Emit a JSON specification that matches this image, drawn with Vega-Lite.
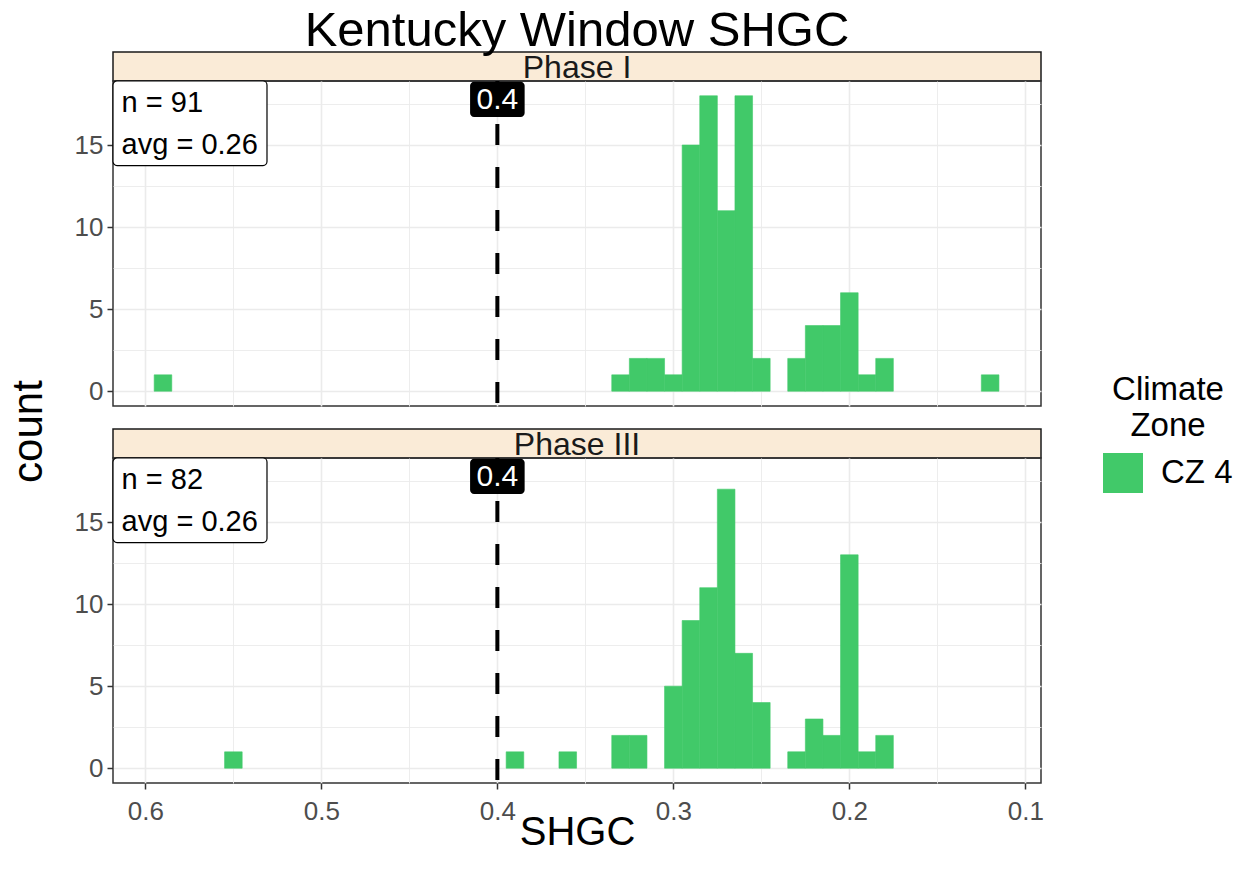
{
  "$schema": "https://vega.github.io/schema/vega-lite/v6.json",
  "padding": {"left": 6, "top": 5, "right": 5, "bottom": 5},
  "background": "white",
  "bounds": "flush",
  "spacing": 0,
  "datasets": {
    "bins": [
      {"phase": "Phase I", "zone": "CZ 4", "shgc_min": 0.585, "shgc_max": 0.595, "count": 1},
      {"phase": "Phase I", "zone": "CZ 4", "shgc_min": 0.325, "shgc_max": 0.335, "count": 1},
      {"phase": "Phase I", "zone": "CZ 4", "shgc_min": 0.315, "shgc_max": 0.325, "count": 2},
      {"phase": "Phase I", "zone": "CZ 4", "shgc_min": 0.305, "shgc_max": 0.315, "count": 2},
      {"phase": "Phase I", "zone": "CZ 4", "shgc_min": 0.295, "shgc_max": 0.305, "count": 1},
      {"phase": "Phase I", "zone": "CZ 4", "shgc_min": 0.285, "shgc_max": 0.295, "count": 15},
      {"phase": "Phase I", "zone": "CZ 4", "shgc_min": 0.275, "shgc_max": 0.285, "count": 18},
      {"phase": "Phase I", "zone": "CZ 4", "shgc_min": 0.265, "shgc_max": 0.275, "count": 11},
      {"phase": "Phase I", "zone": "CZ 4", "shgc_min": 0.255, "shgc_max": 0.265, "count": 18},
      {"phase": "Phase I", "zone": "CZ 4", "shgc_min": 0.245, "shgc_max": 0.255, "count": 2},
      {"phase": "Phase I", "zone": "CZ 4", "shgc_min": 0.225, "shgc_max": 0.235, "count": 2},
      {"phase": "Phase I", "zone": "CZ 4", "shgc_min": 0.215, "shgc_max": 0.225, "count": 4},
      {"phase": "Phase I", "zone": "CZ 4", "shgc_min": 0.205, "shgc_max": 0.215, "count": 4},
      {"phase": "Phase I", "zone": "CZ 4", "shgc_min": 0.195, "shgc_max": 0.205, "count": 6},
      {"phase": "Phase I", "zone": "CZ 4", "shgc_min": 0.185, "shgc_max": 0.195, "count": 1},
      {"phase": "Phase I", "zone": "CZ 4", "shgc_min": 0.175, "shgc_max": 0.185, "count": 2},
      {"phase": "Phase I", "zone": "CZ 4", "shgc_min": 0.115, "shgc_max": 0.125, "count": 1},
      {"phase": "Phase III", "zone": "CZ 4", "shgc_min": 0.545, "shgc_max": 0.555, "count": 1},
      {"phase": "Phase III", "zone": "CZ 4", "shgc_min": 0.385, "shgc_max": 0.395, "count": 1},
      {"phase": "Phase III", "zone": "CZ 4", "shgc_min": 0.355, "shgc_max": 0.365, "count": 1},
      {"phase": "Phase III", "zone": "CZ 4", "shgc_min": 0.325, "shgc_max": 0.335, "count": 2},
      {"phase": "Phase III", "zone": "CZ 4", "shgc_min": 0.315, "shgc_max": 0.325, "count": 2},
      {"phase": "Phase III", "zone": "CZ 4", "shgc_min": 0.295, "shgc_max": 0.305, "count": 5},
      {"phase": "Phase III", "zone": "CZ 4", "shgc_min": 0.285, "shgc_max": 0.295, "count": 9},
      {"phase": "Phase III", "zone": "CZ 4", "shgc_min": 0.275, "shgc_max": 0.285, "count": 11},
      {"phase": "Phase III", "zone": "CZ 4", "shgc_min": 0.265, "shgc_max": 0.275, "count": 17},
      {"phase": "Phase III", "zone": "CZ 4", "shgc_min": 0.255, "shgc_max": 0.265, "count": 7},
      {"phase": "Phase III", "zone": "CZ 4", "shgc_min": 0.245, "shgc_max": 0.255, "count": 4},
      {"phase": "Phase III", "zone": "CZ 4", "shgc_min": 0.225, "shgc_max": 0.235, "count": 1},
      {"phase": "Phase III", "zone": "CZ 4", "shgc_min": 0.215, "shgc_max": 0.225, "count": 3},
      {"phase": "Phase III", "zone": "CZ 4", "shgc_min": 0.205, "shgc_max": 0.215, "count": 2},
      {"phase": "Phase III", "zone": "CZ 4", "shgc_min": 0.195, "shgc_max": 0.205, "count": 13},
      {"phase": "Phase III", "zone": "CZ 4", "shgc_min": 0.185, "shgc_max": 0.195, "count": 1},
      {"phase": "Phase III", "zone": "CZ 4", "shgc_min": 0.175, "shgc_max": 0.185, "count": 2}
    ],
    "notes": [
      {"phase": "Phase I", "n_label": "n = 91", "avg_label": "avg = 0.26", "threshold": 0.4, "threshold_label": "0.4"},
      {"phase": "Phase III", "n_label": "n = 82", "avg_label": "avg = 0.26", "threshold": 0.4, "threshold_label": "0.4"}
    ]
  },
  "vconcat": [
    {
      "title": {"text": "Kentucky Window SHGC", "fontSize": 49, "fontWeight": "normal", "color": "black", "font": "Liberation Sans", "anchor": "middle", "offset": -4},
      "width": 928, "height": 29,
      "view": {"fill": "#FAEBD7", "stroke": "#1A1A1A", "strokeWidth": 1.5},
      "data": {"name": "notes"},
      "transform": [{"filter": "datum.phase === 'Phase I'"}],
      "mark": {"type": "text", "fontSize": 32, "baseline": "alphabetic", "dy": 11, "color": "#1A1A1A"},
      "encoding": {"text": {"field": "phase"}}
    },
    {
      "width": 928, "height": 325,
      "view": {"stroke": "#333333", "strokeWidth": 1.5},
      "layer": [
        {
          "data": {"name": "bins"},
          "transform": [{"filter": "datum.phase === 'Phase I'"}],
          "mark": {"type": "rect", "stroke": "#41C969", "strokeWidth": 0.6},
          "encoding": {
            "x": {"field": "shgc_min", "type": "quantitative", "scale": {"domain": [0.0911, 0.6184], "reverse": true, "nice": false, "zero": false},
              "axis": {"values": [0.1, 0.15, 0.2, 0.25, 0.3, 0.35, 0.4, 0.45, 0.5, 0.55, 0.6], "labels": false, "ticks": false, "title": null,
                "gridWidth": {"condition": {"test": "abs(round(datum.value*10) - datum.value*10) < 0.01", "value": 1.6}, "value": 0.9}}},
            "x2": {"field": "shgc_max"},
            "y": {"field": "count", "type": "quantitative", "scale": {"domain": [-0.9, 18.9], "nice": false, "zero": false},
              "axis": {"values": [0, 2.5, 5, 7.5, 10, 12.5, 15, 17.5], "title": "count", "titleFontSize": 42, "titleX": -72, "titleY": 350, "titleAlign": "center", "titleBaseline": "alphabetic", "titleAngle": 270,
                "labelExpr": "datum.value % 5 === 0 ? datum.label : ''",
                "tickOpacity": {"condition": {"test": "datum.value % 5 === 0", "value": 1}, "value": 0},
                "gridWidth": {"condition": {"test": "datum.value % 5 === 0", "value": 1.6}, "value": 0.9}}},
            "y2": {"datum": 0},
            "color": {"field": "zone", "type": "nominal", "scale": {"range": ["#41C969"]}, "title": ["Climate", "Zone"]}
          }
        },
        {
          "data": {"name": "notes"},
          "transform": [{"filter": "datum.phase === 'Phase I'"}],
          "mark": {"type": "rule", "strokeDash": [21, 22], "strokeWidth": 4, "color": "black"},
          "encoding": {"x": {"field": "threshold", "type": "quantitative"}}
        },
        {
          "data": {"name": "notes"},
          "transform": [{"filter": "datum.phase === 'Phase I'"}],
          "mark": {"type": "rect", "fill": "black", "cornerRadius": 4},
          "encoding": {"x": {"datum": 0.4155}, "x2": {"datum": 0.3845}, "y": {"datum": 18.85}, "y2": {"datum": 16.7}}
        },
        {
          "data": {"name": "notes"},
          "transform": [{"filter": "datum.phase === 'Phase I'"}],
          "mark": {"type": "text", "color": "white", "fontSize": 30, "align": "center", "baseline": "middle"},
          "encoding": {"x": {"field": "threshold", "type": "quantitative"}, "y": {"datum": 17.75}, "text": {"field": "threshold_label"}}
        },
        {
          "data": {"name": "notes"},
          "transform": [{"filter": "datum.phase === 'Phase I'"}],
          "mark": {"type": "rect", "fill": "white", "stroke": "black", "strokeWidth": 1.2, "cornerRadius": 4},
          "encoding": {"x": {"datum": 0.6184}, "x2": {"datum": 0.5309}, "y": {"datum": 18.9}, "y2": {"datum": 13.75}}
        },
        {
          "data": {"name": "notes"},
          "transform": [{"filter": "datum.phase === 'Phase I'"}],
          "mark": {"type": "text", "color": "black", "fontSize": 29, "align": "left", "baseline": "middle"},
          "encoding": {"x": {"datum": 0.6135}, "y": {"datum": 17.56}, "text": {"field": "n_label"}}
        },
        {
          "data": {"name": "notes"},
          "transform": [{"filter": "datum.phase === 'Phase I'"}],
          "mark": {"type": "text", "color": "black", "fontSize": 29, "align": "left", "baseline": "middle"},
          "encoding": {"x": {"datum": 0.6135}, "y": {"datum": 15.0}, "text": {"field": "avg_label"}}
        }
      ]
    },
    {
      "width": 928, "height": 23,
      "view": {"stroke": null, "fill": null},
      "data": {"values": []},
      "mark": "point"
    },
    {
      "width": 928, "height": 29,
      "view": {"fill": "#FAEBD7", "stroke": "#1A1A1A", "strokeWidth": 1.5},
      "data": {"name": "notes"},
      "transform": [{"filter": "datum.phase === 'Phase III'"}],
      "mark": {"type": "text", "fontSize": 32, "baseline": "alphabetic", "dy": 11, "color": "#1A1A1A"},
      "encoding": {"text": {"field": "phase"}}
    },
    {
      "width": 928, "height": 325,
      "view": {"stroke": "#333333", "strokeWidth": 1.5},
      "layer": [
        {
          "data": {"name": "bins"},
          "transform": [{"filter": "datum.phase === 'Phase III'"}],
          "mark": {"type": "rect", "stroke": "#41C969", "strokeWidth": 0.6},
          "encoding": {
            "x": {"field": "shgc_min", "type": "quantitative", "scale": {"domain": [0.0911, 0.6184], "reverse": true, "nice": false, "zero": false},
              "axis": {"values": [0.1, 0.15, 0.2, 0.25, 0.3, 0.35, 0.4, 0.45, 0.5, 0.55, 0.6], "title": "SHGC", "labelOverlap": false, "labelPadding": 9, "titlePadding": -12,
                "labelExpr": "abs(round(datum.value*10) - datum.value*10) < 0.01 ? format(datum.value, '.1f') : ''",
                "tickOpacity": {"condition": {"test": "abs(round(datum.value*10) - datum.value*10) < 0.01", "value": 1}, "value": 0},
                "gridWidth": {"condition": {"test": "abs(round(datum.value*10) - datum.value*10) < 0.01", "value": 1.6}, "value": 0.9}}},
            "x2": {"field": "shgc_max"},
            "y": {"field": "count", "type": "quantitative", "scale": {"domain": [-0.9, 18.9], "nice": false, "zero": false},
              "axis": {"values": [0, 2.5, 5, 7.5, 10, 12.5, 15, 17.5], "title": null,
                "labelExpr": "datum.value % 5 === 0 ? datum.label : ''",
                "tickOpacity": {"condition": {"test": "datum.value % 5 === 0", "value": 1}, "value": 0},
                "gridWidth": {"condition": {"test": "datum.value % 5 === 0", "value": 1.6}, "value": 0.9}}},
            "y2": {"datum": 0},
            "color": {"field": "zone", "type": "nominal", "scale": {"range": ["#41C969"]}, "title": ["Climate", "Zone"]}
          }
        },
        {
          "data": {"name": "notes"},
          "transform": [{"filter": "datum.phase === 'Phase III'"}],
          "mark": {"type": "rule", "strokeDash": [21, 22], "strokeWidth": 4, "color": "black"},
          "encoding": {"x": {"field": "threshold", "type": "quantitative"}}
        },
        {
          "data": {"name": "notes"},
          "transform": [{"filter": "datum.phase === 'Phase III'"}],
          "mark": {"type": "rect", "fill": "black", "cornerRadius": 4},
          "encoding": {"x": {"datum": 0.4155}, "x2": {"datum": 0.3845}, "y": {"datum": 18.85}, "y2": {"datum": 16.7}}
        },
        {
          "data": {"name": "notes"},
          "transform": [{"filter": "datum.phase === 'Phase III'"}],
          "mark": {"type": "text", "color": "white", "fontSize": 30, "align": "center", "baseline": "middle"},
          "encoding": {"x": {"field": "threshold", "type": "quantitative"}, "y": {"datum": 17.75}, "text": {"field": "threshold_label"}}
        },
        {
          "data": {"name": "notes"},
          "transform": [{"filter": "datum.phase === 'Phase III'"}],
          "mark": {"type": "rect", "fill": "white", "stroke": "black", "strokeWidth": 1.2, "cornerRadius": 4},
          "encoding": {"x": {"datum": 0.6184}, "x2": {"datum": 0.5309}, "y": {"datum": 18.9}, "y2": {"datum": 13.75}}
        },
        {
          "data": {"name": "notes"},
          "transform": [{"filter": "datum.phase === 'Phase III'"}],
          "mark": {"type": "text", "color": "black", "fontSize": 29, "align": "left", "baseline": "middle"},
          "encoding": {"x": {"datum": 0.6135}, "y": {"datum": 17.56}, "text": {"field": "n_label"}}
        },
        {
          "data": {"name": "notes"},
          "transform": [{"filter": "datum.phase === 'Phase III'"}],
          "mark": {"type": "text", "color": "black", "fontSize": 29, "align": "left", "baseline": "middle"},
          "encoding": {"x": {"datum": 0.6135}, "y": {"datum": 15.0}, "text": {"field": "avg_label"}}
        }
      ]
    }
  ],
  "config": {
    "font": "Liberation Sans",
    "axis": {"gridColor": "#EBEBEB", "domain": false, "tickColor": "#333333", "tickSize": 6, "tickWidth": 1.5, "labelColor": "#4D4D4D", "labelFontSize": 26, "labelPadding": 4, "titleFontSize": 40, "titleFontWeight": "normal", "titleColor": "black", "titlePadding": 4},
    "legend": {"orient": "none", "legendX": 990, "legendY": 322, "titleFontSize": 33, "titleFontWeight": "normal", "titleColor": "black", "titleAlign": "center", "titleAnchor": "middle", "titleLineHeight": 36, "titlePadding": 10, "labelFontSize": 33, "labelColor": "black", "labelOffset": 18, "symbolType": "square", "symbolSize": 1600, "symbolStrokeWidth": 0, "symbolOpacity": 1}
  }
}
